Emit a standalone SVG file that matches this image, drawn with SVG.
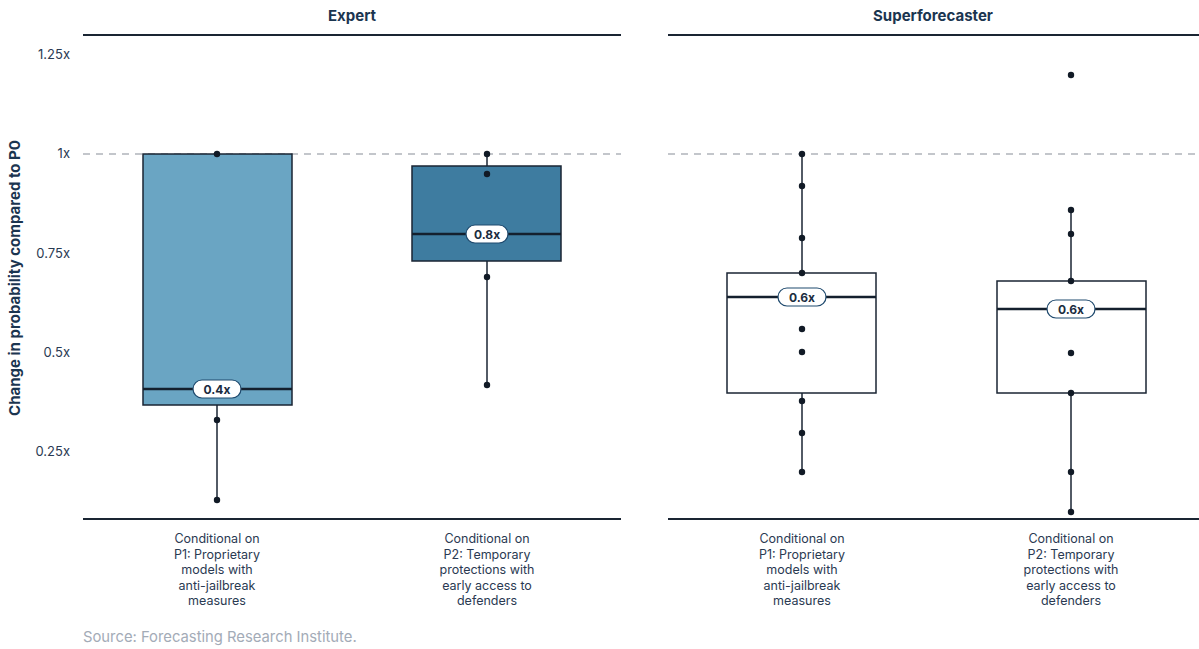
<svg xmlns="http://www.w3.org/2000/svg" width="1199" height="649" viewBox="0 0 1199 649">
<style>
.title{font-family:Inter,"Liberation Sans",sans-serif;font-weight:700;font-size:15px;fill:#1b3550;text-anchor:middle}
.tick{font-family:Inter,"Liberation Sans",sans-serif;font-size:13px;fill:#2a3a52;text-anchor:end}
.xl{font-family:Inter,"Liberation Sans",sans-serif;font-size:12.5px;fill:#2a3a52;text-anchor:middle}
.src{font-family:Inter,"Liberation Sans",sans-serif;font-size:14.8px;fill:#a3abb7}
.axis{stroke:#1a2533;stroke-width:2}
.dash{stroke:#b0b4ba;stroke-width:1.5;stroke-dasharray:7 6}
.box{stroke:#1a2533;stroke-width:1.5}
.med{stroke:#14202e;stroke-width:2.5}
.wh{stroke:#1a2533;stroke-width:1.5}
.pt{fill:#111a26}
.pill{fill:#fff;stroke:#1f4a6e;stroke-width:1.2}
.pl{font-family:Inter,"Liberation Sans",sans-serif;font-weight:700;font-size:12px;fill:#1b2c40;text-anchor:middle}
</style>
<rect width="1199" height="649" fill="#fff"/>
<text class="title" x="352" y="21">Expert</text>
<text class="title" x="933" y="21">Superforecaster</text>
<line class="axis" x1="83" y1="35" x2="621" y2="35"/>
<line class="axis" x1="668" y1="35" x2="1199" y2="35"/>
<line class="axis" x1="83" y1="519" x2="621" y2="519"/>
<line class="axis" x1="668" y1="519" x2="1199" y2="519"/>
<line class="dash" x1="83" y1="154" x2="621" y2="154"/>
<line class="dash" x1="668" y1="154" x2="1199" y2="154"/>
<g id="yaxis">
<text class="tick" x="70" y="59">1.25x</text>
<text class="tick" x="70" y="158">1x</text>
<text class="tick" x="70" y="258">0.75x</text>
<text class="tick" x="70" y="357">0.5x</text>
<text class="tick" x="70" y="456">0.25x</text>
<text transform="translate(20,278) rotate(-90)" style="font-family:Inter,'Liberation Sans',sans-serif;font-weight:700;font-size:15px;fill:#1b3550;text-anchor:middle">Change in probability compared to P0</text>
</g>
<g id="expert-p1">
<line class="wh" x1="217" y1="405" x2="217" y2="500"/>
<rect class="box" x="143" y="154" width="149" height="251" fill="#6aa5c3"/>
<line class="med" x1="143" y1="389" x2="292" y2="389"/>
<rect class="pill" x="193" y="380" width="48" height="18" rx="9"/>
<text class="pl" x="217" y="393.5">0.4x</text>
<circle class="pt" cx="217" cy="154" r="3.2"/>
<circle class="pt" cx="217" cy="420" r="3.2"/>
<circle class="pt" cx="217" cy="500" r="3.2"/>
</g>
<g id="expert-p2">
<line class="wh" x1="487" y1="154" x2="487" y2="385"/>
<rect class="box" x="412" y="166" width="149" height="95" fill="#3e7ca0"/>
<line class="med" x1="412" y1="234" x2="561" y2="234"/>
<rect class="pill" x="466" y="225" width="42" height="18" rx="9"/>
<text class="pl" x="487" y="238.5">0.8x</text>
<circle class="pt" cx="487" cy="154" r="3.2"/>
<circle class="pt" cx="487" cy="174" r="3.2"/>
<circle class="pt" cx="487" cy="277" r="3.2"/>
<circle class="pt" cx="487" cy="385" r="3.2"/>
</g>
<g id="super-p1">
<line class="wh" x1="802" y1="154" x2="802" y2="472"/>
<rect class="box" x="727" y="273" width="149" height="120" fill="#fff"/>
<line class="med" x1="727" y1="297" x2="876" y2="297"/>
<rect class="pill" x="778" y="288" width="48" height="18" rx="9"/>
<text class="pl" x="802" y="301.5">0.6x</text>
<circle class="pt" cx="802" cy="154" r="3.2"/>
<circle class="pt" cx="802" cy="186" r="3.2"/>
<circle class="pt" cx="802" cy="238" r="3.2"/>
<circle class="pt" cx="802" cy="273" r="3.2"/>
<circle class="pt" cx="802" cy="329" r="3.2"/>
<circle class="pt" cx="802" cy="352" r="3.2"/>
<circle class="pt" cx="802" cy="401" r="3.2"/>
<circle class="pt" cx="802" cy="433" r="3.2"/>
<circle class="pt" cx="802" cy="472" r="3.2"/>
</g>
<g id="super-p2">
<line class="wh" x1="1071" y1="210" x2="1071" y2="512"/>
<rect class="box" x="997" y="281" width="149" height="112" fill="#fff"/>
<line class="med" x1="997" y1="309" x2="1146" y2="309"/>
<rect class="pill" x="1047" y="300" width="48" height="18" rx="9"/>
<text class="pl" x="1071" y="313.5">0.6x</text>
<circle class="pt" cx="1071" cy="75" r="3.2"/>
<circle class="pt" cx="1071" cy="210" r="3.2"/>
<circle class="pt" cx="1071" cy="234" r="3.2"/>
<circle class="pt" cx="1071" cy="281" r="3.2"/>
<circle class="pt" cx="1071" cy="353" r="3.2"/>
<circle class="pt" cx="1071" cy="393" r="3.2"/>
<circle class="pt" cx="1071" cy="472" r="3.2"/>
<circle class="pt" cx="1071" cy="512" r="3.2"/>
</g>
<g id="xlabels">
<text class="xl" x="217" y="543"><tspan x="217">Conditional on</tspan><tspan x="217" dy="15.5">P1: Proprietary</tspan><tspan x="217" dy="15.5">models with</tspan><tspan x="217" dy="15.5">anti-jailbreak</tspan><tspan x="217" dy="15.5">measures</tspan></text>
<text class="xl" x="487" y="543"><tspan x="487">Conditional on</tspan><tspan x="487" dy="15.5">P2: Temporary</tspan><tspan x="487" dy="15.5">protections with</tspan><tspan x="487" dy="15.5">early access to</tspan><tspan x="487" dy="15.5">defenders</tspan></text>
<text class="xl" x="802" y="543"><tspan x="802">Conditional on</tspan><tspan x="802" dy="15.5">P1: Proprietary</tspan><tspan x="802" dy="15.5">models with</tspan><tspan x="802" dy="15.5">anti-jailbreak</tspan><tspan x="802" dy="15.5">measures</tspan></text>
<text class="xl" x="1071" y="543"><tspan x="1071">Conditional on</tspan><tspan x="1071" dy="15.5">P2: Temporary</tspan><tspan x="1071" dy="15.5">protections with</tspan><tspan x="1071" dy="15.5">early access to</tspan><tspan x="1071" dy="15.5">defenders</tspan></text>
</g>
<text class="src" x="83" y="642">Source: Forecasting Research Institute.</text>
</svg>
